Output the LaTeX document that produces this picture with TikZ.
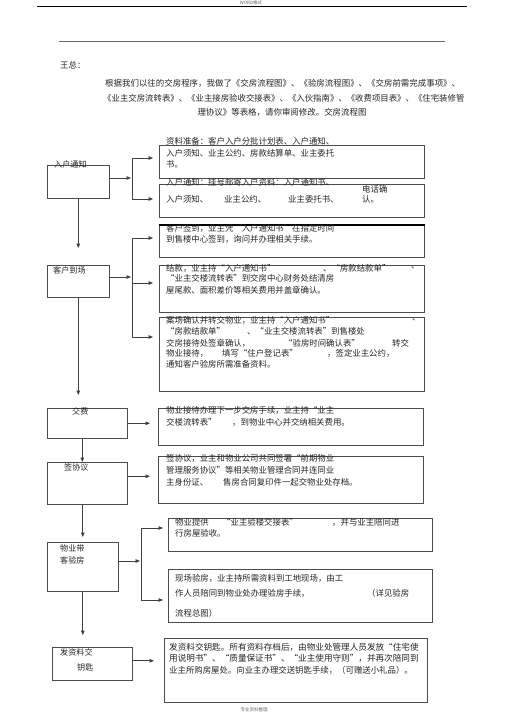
\documentclass[tikz,border=0pt]{standalone}
\usepackage{fontspec}
\newfontfamily\cjk{Noto Sans CJK SC}
\usetikzlibrary{arrows.meta}
\newcommand{\oq}{\makebox[1em][r]{“}}
\newcommand{\cq}{\makebox[1em][l]{”}}
\begin{document}
\begin{tikzpicture}[x=1pt,y=-1pt,
  box/.style={draw=black!70, line width=0.6pt, rectangle, inner sep=0pt, anchor=north west},
  txt/.style={anchor=west, inner sep=0pt, font=\cjk\fontsize{8.4}{10}\selectfont, text=black!85},
  lbl/.style={anchor=west, inner sep=0pt, font=\cjk\fontsize{8.1}{10}\selectfont, text=black!85},
  tiny/.style={inner sep=0pt, font=\cjk\fontsize{4.5}{5}\selectfont, text=black!60},
  conn/.style={draw=black!75, line width=0.7pt},
  arr/.style={conn, -{Triangle[length=4.5pt,width=3.6pt]}}]
\useasboundingbox (0,0) rectangle (505,714);
\fill[white] (0,0) rectangle (505,714);

% header / footer
\node[tiny] (hdr) at (251,3) {WORD格式};
\draw[black, line width=1pt] (37,7) -- (467,7);
\draw[black!60, line width=0.8pt] (59,41) -- (445,41);
\node[tiny] (ftr) at (254,710) {专业资料整理};

% letter
\node[txt] (wz) at (60,65) {王总：};
\node[txt, font=\cjk\fontsize{8.45}{10}\selectfont] (p1) at (105,83) {根据我们以往的交房程序，我做了《交房流程图》、《验房流程图》、《交房前需完成事项》、};
\node[txt, font=\cjk\fontsize{8.4}{10}\selectfont] (p2) at (103,98) {《业主交房流转表》、《业主接房验收交接表》、《入伙指南》、《收费项目表》、《住宅装修管};
\node[txt, anchor=center, font=\cjk\fontsize{8.45}{10}\selectfont] (p3) at (282,112) {理协议》等表格，请你审阅修改。交房流程图};

% left boxes
\node[box, minimum width=62pt, minimum height=33pt] (L1) at (47,165) {};
\node[box, minimum width=62pt, minimum height=32pt] (L2) at (47,265) {};
\node[box, minimum width=80pt, minimum height=30pt] (L3) at (47,408) {};
\node[box, minimum width=80pt, minimum height=42pt] (L4) at (47,462) {};
\node[box, minimum width=71pt, minimum height=49pt] (L5) at (47,542) {};
\node[box, minimum width=80pt, minimum height=33pt] (L6) at (52,647) {};

\node[lbl] (l1) at (54,164) {入户通知};
\node[lbl] (l2) at (53,270) {客户到场};
\node[lbl] (l3) at (72,411) {交费};
\node[lbl] (l4) at (64,467) {签协议};
\node[lbl] (l5a) at (60,548) {物业带};
\node[lbl] (l5b) at (60,560) {客验房};
\node[lbl] (l6a) at (60,652) {发资料交};
\node[lbl] (l6b) at (77,667) {钥匙};

% right boxes
\node[box, minimum width=265pt, minimum height=33pt] (R1) at (159,145) {};
\node[box, minimum width=265pt, minimum height=33pt] (R2) at (159,184) {};
\node[box, minimum width=265pt, minimum height=32pt] (R3) at (159,225) {};
\node[box, minimum width=265pt, minimum height=47pt] (R4) at (159,265) {};
\node[box, minimum width=265pt, minimum height=74pt] (R5) at (159,317) {};
\node[box, minimum width=265pt, minimum height=37pt] (R6) at (158,408) {};
\node[box, minimum width=265pt, minimum height=47pt] (R7) at (158,456) {};
\node[box, minimum width=264pt, minimum height=33pt] (R8) at (168,518) {};
\node[box, minimum width=264pt, minimum height=53pt] (R9) at (168,569) {};
\node[box, minimum width=263pt, minimum height=64pt] (R10) at (164,638) {};
\draw[black, line width=1.4pt] (R3.north west) -- (R3.north east);

% texts in right boxes
\node[txt] (t1a) at (166,141) {资料准备：客户入户分批计划表、入户通知、};
\node[txt] (t1b) at (166,153) {入户须知、业主公约、房款结算单、业主委托};
\node[txt] (t1c) at (166,164) {书。};
\node[txt] (t2a) at (166,182) {入户通知：挂号邮寄入户资料：入户通知书、};
\node[txt] (t2b) at (166,199) {入户须知、};
\node[txt] (t2c) at (224,199) {业主公约、};
\node[txt] (t2d) at (288,199) {业主委托书、};
\node[txt] (t2e) at (362,189) {电话确};
\node[txt] (t2f) at (362,199) {认。};

\node[txt] (t3a) at (166,228) {客户签到，业主凭\oq 入户通知书\cq 在指定时间};
\node[txt] (t3b) at (166,239) {到售楼中心签到，询问并办理相关手续。};

\node[txt] (t4a) at (166,268) {结款，业主持\oq 入户通知书\cq};
\node[txt] (t4b) at (323,268) {、\oq 房款结款单\cq};
\node[txt] (t4c) at (411,268) {、};
\node[txt] (t4d) at (166,278) {\oq 业主交楼流转表\cq 到交房中心财务处结清房};
\node[txt] (t4e) at (166,290) {屋尾款、面积差价等相关费用并盖章确认。};

\node[txt] (t5a) at (166,320) {案场确认并转交物业，业主持\oq 入户通知书\cq};
\node[txt] (t5b) at (412,320) {、};
\node[txt] (t5c) at (166,331) {\oq 房款结款单\cq};
\node[txt] (t5d) at (247,331) {、\oq 业主交楼流转表\cq 到售楼处};
\node[txt] (t5e) at (166,343) {交房接待处签章确认，};
\node[txt] (t5f) at (284,343) {\oq 验房时间确认表\cq};
\node[txt] (t5g) at (392,343) {转交};
\node[txt] (t5h) at (166,353) {物业接待，};
\node[txt] (t5i) at (222,353) {填写\oq 住户登记表\cq};
\node[txt] (t5j) at (327,353) {，签定业主公约，};
\node[txt] (t5k) at (166,364) {通知客户验房所需准备资料。};

\node[txt] (t6a) at (166,410) {物业接待办理下一步交房手续，业主持\oq 业主};
\node[txt] (t6b) at (166,422) {交楼流转表\cq};
\node[txt] (t6c) at (232,422) {，到物业中心并交纳相关费用。};

\node[txt] (t7a) at (166,458) {签协议，业主和物业公司共同签署\oq 前期物业};
\node[txt] (t7b) at (166,470) {管理服务协议\cq 等相关物业管理合同并连同业};
\node[txt] (t7c) at (166,482) {主身份证、};
\node[txt] (t7d) at (223,482) {售房合同复印件一起交物业处存档。};

\node[txt] (t8a) at (175,522) {物业提供};
\node[txt] (t8b) at (222,522) {\oq 业主验楼交接表\cq};
\node[txt] (t8c) at (332,522) {，并与业主陪同进};
\node[txt] (t8d) at (175,533) {行房屋验收。};

\node[txt] (t9a) at (175,578) {现场验房，业主持所需资料到工地现场，由工};
\node[txt] (t9b) at (175,593) {作人员陪同到物业处办理验房手续，};
\node[txt] (t9c) at (367,593) {（详见验房};
\node[txt] (t9d) at (175,613) {流程总图）};

\node[txt, font=\cjk\fontsize{8.6}{10}\selectfont] (t10a) at (169,647) {发资料交钥匙。所有资料存档后，由物业处管理人员发放\oq 住宅使};
\node[txt, font=\cjk\fontsize{8.6}{10}\selectfont] (t10b) at (169,658) {用说明书\cq 、\oq 质量保证书\cq 、\oq 业主使用守则\cq ，并再次陪同到};
\node[txt, font=\cjk\fontsize{8.4}{10}\selectfont] (t10c) at (169,670) {业主所购房屋处。向业主办理交送钥匙手续，（可赠送小礼品）。};

% connectors: step 1
\coordinate (j1) at (131,178);
\coordinate (j1t) at (132,158);
\coordinate (j1b) at (132,199);
\draw[arr] (L1.east |- j1) -- (j1);
\draw[conn] (j1t) -- (j1b);
\draw[arr, shorten >=6pt] (j1t) -- (j1t -| R1.west);
\draw[arr, shorten >=6pt] (j1b) -- (j1b -| R2.west);
\draw[arr, shorten >=17pt] (L1.south) -- (L2.north);

% step 2
\coordinate (j2) at (131,277);
\coordinate (j2t) at (132,238);
\coordinate (j2m) at (132,283);
\coordinate (j2b) at (132,337);
\draw[arr] (L2.east |- j2) -- (j2);
\draw[conn] (j2t) -- (j2b);
\draw[arr, shorten >=6pt] (j2t) -- (j2t -| R3.west);
\draw[arr, shorten >=6pt] (j2m) -- (j2m -| R4.west);
\draw[arr, shorten >=6pt] (j2b) -- (j2b -| R5.west);
\draw[arr, shorten >=13pt] (L2.south) -- (L2.south |- L3.north);

% step 3 and 4
\draw[arr, shorten >=8pt] (L3.east) -- (L3.east -| R6.west);
\draw[arr] ([xshift=-5pt]L3.south) -- ([xshift=-5pt]L4.north);
\draw[arr, shorten >=8pt] ([yshift=7pt]L4.east) -- ([yshift=7pt]L4.east -| R7.west);
\draw[arr, shorten >=5pt] (L5.north |- L4.south) -- (L5.north);

% step 5
\coordinate (j5) at (140,561);
\coordinate (j5t) at (141,528);
\coordinate (j5b) at (141,600);
\draw[arr] (L5.east |- j5) -- (j5);
\draw[conn] (j5t) -- (j5b);
\draw[arr, shorten >=5pt] (j5t) -- (j5t -| R8.west);
\draw[arr, shorten >=5pt] (j5b) -- (j5b -| R9.west);
\draw[arr, shorten >=12pt] (L5.south) -- (L5.south |- L6.north);

% step 6
\draw[arr, shorten >=10pt] ([yshift=3pt]L6.east) -- ([yshift=3pt]L6.east -| R10.west);
\end{tikzpicture}
\end{document}
